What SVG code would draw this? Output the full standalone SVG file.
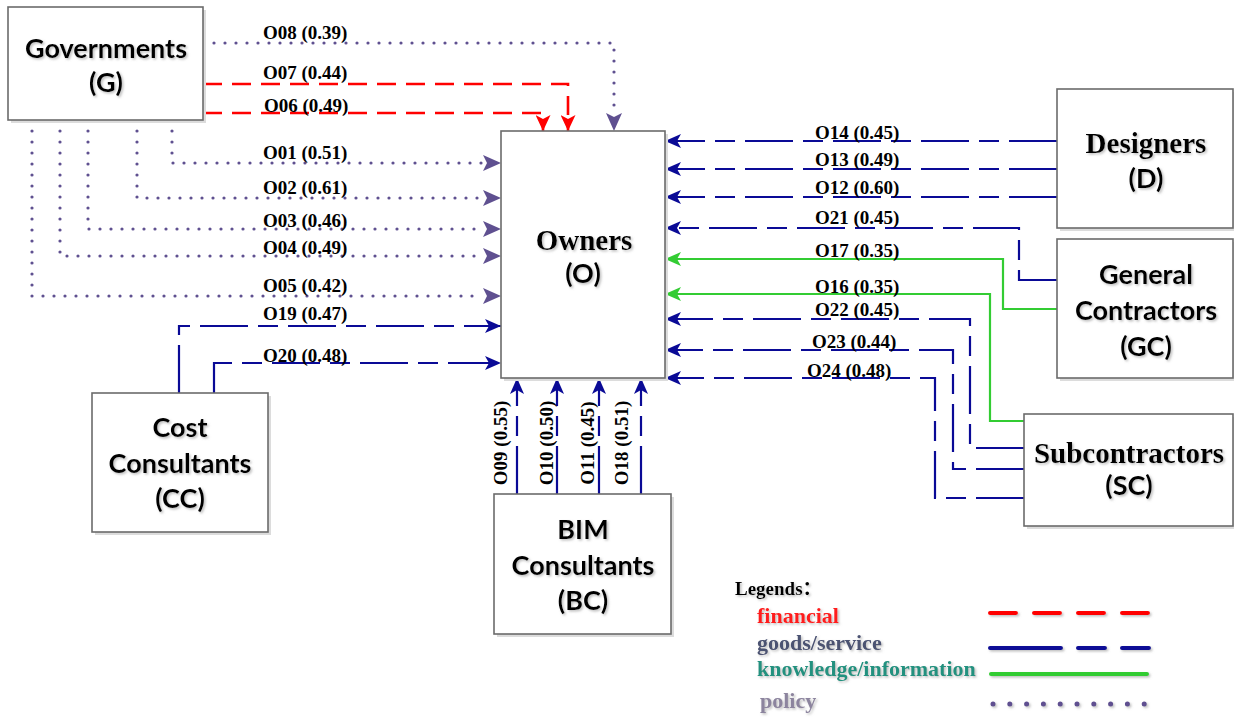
<svg xmlns="http://www.w3.org/2000/svg" width="1234" height="717" viewBox="0 0 1234 717">
<style>
.box{fill:#fff;stroke:#6b6b6b;stroke-width:1.6}
.shd{fill:#dcdcdc}
.sans{font-family:Lato,"Liberation Sans",sans-serif;font-weight:bold;font-size:27px;fill:#000;text-anchor:middle}
.serif{font-family:"Liberation Serif",serif;font-weight:bold;font-size:29px;fill:#000;text-anchor:middle}
.lbl{font-family:"Liberation Serif",serif;font-weight:bold;font-size:19px;fill:#000}
.pol{fill:none;stroke:#5f5090;stroke-width:3.2;stroke-linecap:round;stroke-dasharray:0 11}
.fin{fill:none;stroke:#ff0000;stroke-width:2.6;stroke-dasharray:19 10}
.gds{fill:none;stroke:#0a0a96;stroke-width:2.2;stroke-dasharray:48 10 20 10}
.kno{fill:none;stroke:#33cc33;stroke-width:2.2}
.leg{font-family:"Liberation Serif","Noto Sans CJK SC",serif;font-weight:bold;font-size:22px}
</style>
<defs>
<filter id="ts" x="-10%" y="-30%" width="130%" height="170%">
<feDropShadow dx="1.5" dy="1.5" stdDeviation="1" flood-color="#888" flood-opacity="0.55"/>
</filter>
<marker id="ap" markerUnits="userSpaceOnUse" markerWidth="18" markerHeight="16" viewBox="0 0 18 16" refX="18" refY="8" orient="auto">
<path d="M0,0 L18,8 L0,16 L4,8 Z" fill="#5f5090"/>
</marker>
<marker id="ab" markerUnits="userSpaceOnUse" markerWidth="16" markerHeight="14" viewBox="0 0 16 14" refX="16" refY="7" orient="auto">
<path d="M0,0 L16,7 L0,14 L4,7 Z" fill="#0a0a96"/>
</marker>
<marker id="ar" markerUnits="userSpaceOnUse" markerWidth="16" markerHeight="15" viewBox="0 0 16 15" refX="16" refY="7.5" orient="auto">
<path d="M0,0 L16,7.5 L0,15 L4,7.5 Z" fill="#ff0000"/>
</marker>
<marker id="ag" markerUnits="userSpaceOnUse" markerWidth="16" markerHeight="14" viewBox="0 0 16 14" refX="16" refY="7" orient="auto">
<path d="M0,0 L16,7 L0,14 L4,7 Z" fill="#33cc33"/>
</marker>
</defs>
<rect width="1234" height="717" fill="#fff"/>

<g id="connectors">
<!-- policy -->
<path class="pol" d="M203,43 H614 V113"/>
<line x1="614" y1="120" x2="614" y2="131" stroke="none" marker-end="url(#ap)"/>
<path class="pol" d="M172,120 V163 H483"/>
<path class="pol" d="M137,120 V198 H483"/>
<path class="pol" d="M88,120 V229 H483"/>
<path class="pol" d="M60,120 V256 H483"/>
<path class="pol" d="M32,120 V296 H483"/>
<line x1="490" y1="163" x2="501" y2="163" stroke="none" marker-end="url(#ap)"/>
<line x1="490" y1="198" x2="501" y2="198" stroke="none" marker-end="url(#ap)"/>
<line x1="490" y1="229" x2="501" y2="229" stroke="none" marker-end="url(#ap)"/>
<line x1="490" y1="256" x2="501" y2="256" stroke="none" marker-end="url(#ap)"/>
<line x1="490" y1="296" x2="501" y2="296" stroke="none" marker-end="url(#ap)"/>
<!-- financial -->
<path class="fin" d="M203,84 H568 V131" marker-end="url(#ar)"/>
<path class="fin" d="M203,113 H543 V131" marker-end="url(#ar)"/>
<!-- goods/service -->
<path class="gds" d="M179,393 V326 H501" marker-end="url(#ab)"/>
<path class="gds" d="M214,393 V363 H501" marker-end="url(#ab)"/>
<path class="gds" d="M1057,141 H665" marker-end="url(#ab)"/>
<path class="gds" d="M1057,169 H665" marker-end="url(#ab)"/>
<path class="gds" d="M1057,197 H665" marker-end="url(#ab)"/>
<path class="gds" d="M1057,280 H1019 V228 H665" marker-end="url(#ab)"/>
<path class="gds" d="M1024,448 H970 V319 H665" marker-end="url(#ab)"/>
<path class="gds" d="M1024,469 H953 V350 H665" marker-end="url(#ab)"/>
<path class="gds" d="M1024,498 H935 V378 H665" marker-end="url(#ab)"/>
<path class="gds" d="M517,494 V378" marker-end="url(#ab)"/>
<path class="gds" d="M557,494 V378" marker-end="url(#ab)"/>
<path class="gds" d="M599,494 V378" marker-end="url(#ab)"/>
<path class="gds" d="M641,494 V378" marker-end="url(#ab)"/>
<!-- knowledge -->
<path class="kno" d="M1057,309 H1003 V259 H665" marker-end="url(#ag)"/>
<path class="kno" d="M1024,421 H990 V294 H665" marker-end="url(#ag)"/>
</g>

<g id="labels">
<text x="263" y="39" class="lbl">O08 (0.39)</text>
<text x="263" y="79" class="lbl">O07 (0.44)</text>
<text x="264" y="112" class="lbl">O06 (0.49)</text>
<text x="263" y="159" class="lbl">O01 (0.51)</text>
<text x="263" y="194" class="lbl">O02 (0.61)</text>
<text x="263" y="227" class="lbl">O03 (0.46)</text>
<text x="263" y="254" class="lbl">O04 (0.49)</text>
<text x="263" y="292" class="lbl">O05 (0.42)</text>
<text x="263" y="320" class="lbl">O19 (0.47)</text>
<text x="263" y="362" class="lbl">O20 (0.48)</text>
<text x="815" y="139" class="lbl">O14 (0.45)</text>
<text x="815" y="166" class="lbl">O13 (0.49)</text>
<text x="815" y="194" class="lbl">O12 (0.60)</text>
<text x="815" y="224" class="lbl">O21 (0.45)</text>
<text x="815" y="257" class="lbl">O17 (0.35)</text>
<text x="815" y="293" class="lbl">O16 (0.35)</text>
<text x="815" y="316" class="lbl">O22 (0.45)</text>
<text x="812" y="348" class="lbl">O23 (0.44)</text>
<text x="807" y="377" class="lbl">O24 (0.48)</text>
<text transform="translate(507,443) rotate(-90)" text-anchor="middle" class="lbl">O09 (0.55)</text>
<text transform="translate(553,443) rotate(-90)" text-anchor="middle" class="lbl">O10 (0.50)</text>
<text transform="translate(594,443) rotate(-90)" text-anchor="middle" class="lbl">O11 (0.45)</text>
<text transform="translate(628,443) rotate(-90)" text-anchor="middle" class="lbl">O18 (0.51)</text>
</g>

<g id="node-G">
<rect class="shd" x="11" y="10" width="195" height="113"/>
<rect class="box" x="8" y="7" width="195" height="113"/>
<g filter="url(#ts)"><text class="sans" x="106" y="58">Governments</text><text class="sans" x="106" y="92">(G)</text></g>
</g>

<g id="node-O">
<rect class="shd" x="504" y="134" width="164" height="247"/>
<rect class="box" x="501" y="131" width="164" height="247"/>
<g filter="url(#ts)"><text class="serif" x="584" y="250">Owners</text><text class="sans" x="583" y="283">(O)</text></g>
</g>

<g id="node-D">
<rect class="shd" x="1060" y="92" width="176" height="139"/>
<rect class="box" x="1057" y="89" width="176" height="139"/>
<g filter="url(#ts)"><text class="serif" x="1146" y="153">Designers</text><text class="sans" x="1146" y="188">(D)</text></g>
</g>

<g id="node-GC">
<rect class="shd" x="1060" y="242" width="176" height="139"/>
<rect class="box" x="1057" y="239" width="176" height="139"/>
<g filter="url(#ts)"><text class="sans" x="1146" y="284">General</text><text class="sans" x="1146" y="320">Contractors</text><text class="sans" x="1146" y="356">(GC)</text></g>
</g>

<g id="node-SC">
<rect class="shd" x="1027" y="417" width="209" height="112"/>
<rect class="box" x="1024" y="414" width="209" height="112"/>
<g filter="url(#ts)"><text class="serif" x="1129" y="463">Subcontractors</text><text class="sans" x="1129" y="495">(SC)</text></g>
</g>

<g id="node-CC">
<rect class="shd" x="95" y="396" width="176" height="139"/>
<rect class="box" x="92" y="393" width="176" height="139"/>
<g filter="url(#ts)"><text class="sans" x="180" y="437">Cost</text><text class="sans" x="180" y="473">Consultants</text><text class="sans" x="180" y="508">(CC)</text></g>
</g>

<g id="node-BC">
<rect class="shd" x="497" y="497" width="177" height="140"/>
<rect class="box" x="494" y="494" width="177" height="140"/>
<g filter="url(#ts)"><text class="sans" x="583" y="539">BIM</text><text class="sans" x="583" y="575">Consultants</text><text class="sans" x="583" y="610">(BC)</text></g>
</g>

<g id="legend" filter="url(#ts)">
<text x="735" y="595" class="leg" style="font-size:19px" fill="#000">Legends：</text>
<text x="757" y="623" class="leg" fill="#ff1a1a">financial</text>
<text x="757" y="650" class="leg" fill="#4b5272">goods/service</text>
<text x="757" y="676" class="leg" fill="#22917f">knowledge/information</text>
<text x="760" y="708" class="leg" fill="#8c849e">policy</text>
<path d="M990,613 H1150" fill="none" stroke="#ff0000" stroke-width="4" stroke-linecap="round" stroke-dasharray="26 18"/>
<path d="M990,648 H1150" fill="none" stroke="#0a0a96" stroke-width="4" stroke-linecap="round" stroke-dasharray="71 17 27 17 27"/>
<path d="M991,674 H1147" fill="none" stroke="#33cc33" stroke-width="4" stroke-linecap="round"/>
<path d="M993,704 H1145" fill="none" stroke="#5f5090" stroke-width="5" stroke-linecap="round" stroke-dasharray="0 16.8"/>
</g>
</svg>
